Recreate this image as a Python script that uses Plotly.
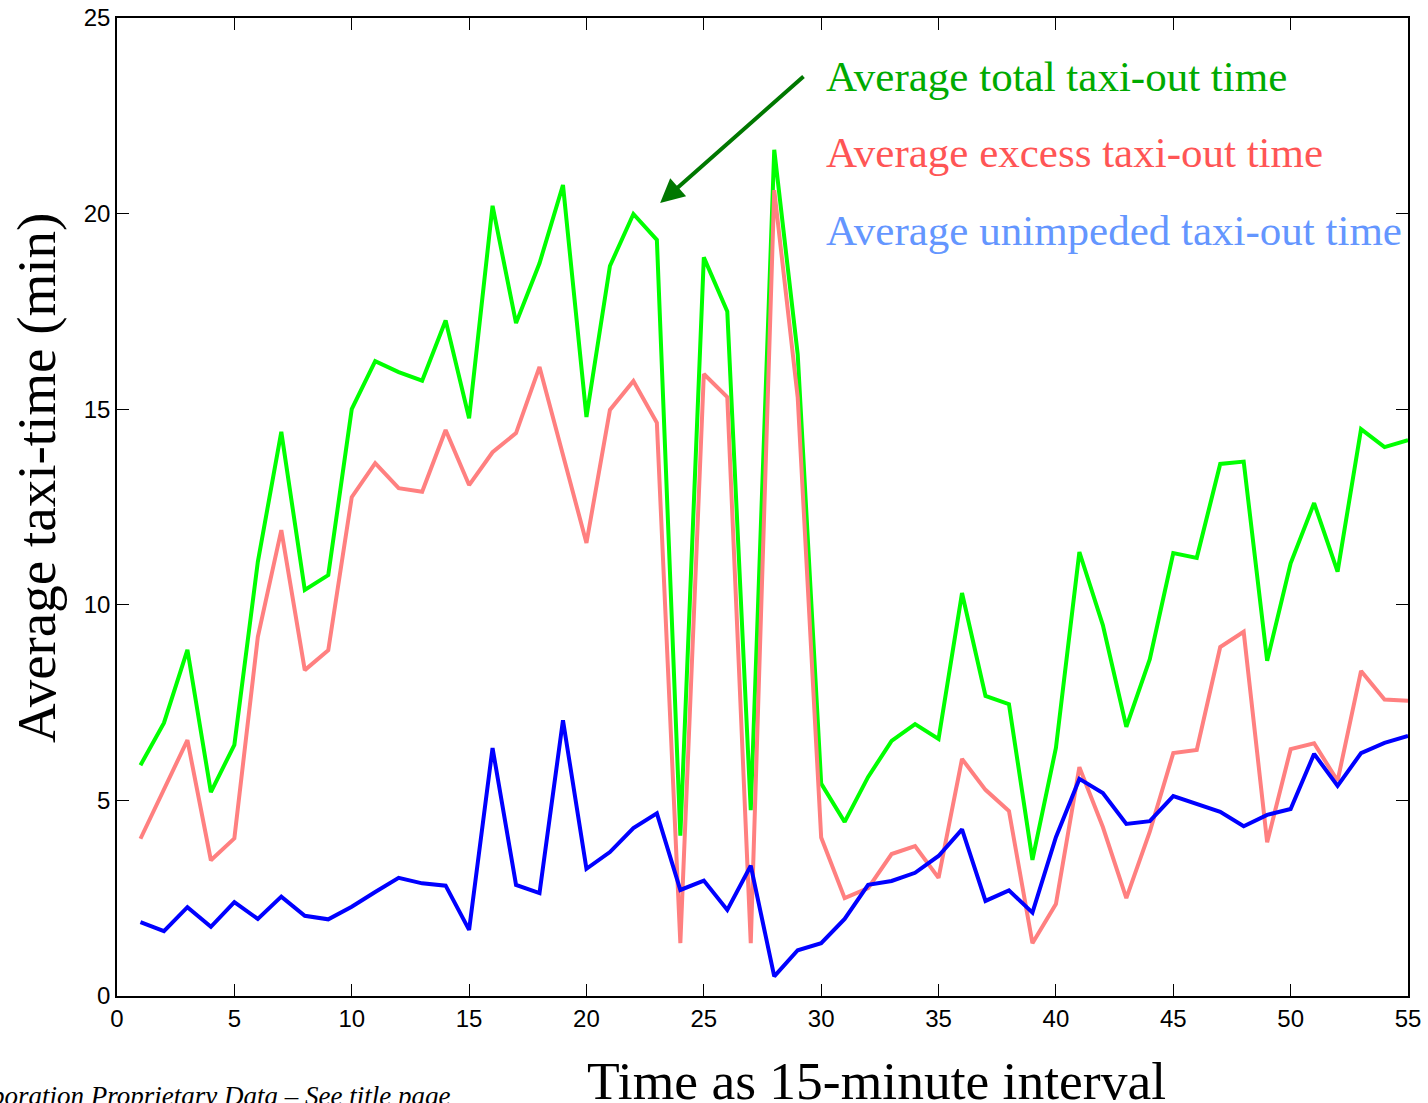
import plotly.graph_objects as go

intervals = list(range(1, 56))

total_taxi = [5.9, 6.98, 8.85, 5.21, 6.42, 11.1, 14.42, 10.38, 10.76, 15.0,
              16.23, 15.95, 15.73, 17.27, 14.77, 20.2, 17.2, 18.73, 20.73, 14.8,
              18.66, 19.99, 19.33, 4.1, 18.88, 17.5, 4.75, 21.63, 16.4, 5.43,
              4.45, 5.6, 6.52, 6.95, 6.57, 10.3, 7.67, 7.46, 3.48, 6.34,
              11.35, 9.48, 6.88, 8.61, 11.32, 11.2, 13.6, 13.66, 8.57, 11.06,
              12.6, 10.85, 14.49, 14.03, 14.21]

excess_taxi = [4.02, 5.3, 6.54, 3.47, 4.03, 9.18, 11.91, 8.33, 8.84, 12.75,
               13.62, 12.98, 12.89, 14.47, 13.06, 13.9, 14.39, 16.08, 13.8, 11.58,
               14.98, 15.72, 14.65, 1.35, 15.9, 15.31, 1.35, 20.6, 15.3, 4.05,
               2.5, 2.76, 3.63, 3.83, 3.02, 6.06, 5.27, 4.73, 1.35, 2.35,
               5.85, 4.32, 2.5, 4.2, 6.21, 6.29, 8.92, 9.31, 3.93, 6.31,
               6.46, 5.5, 8.31, 7.58, 7.55]

unimpeded_taxi = [1.89, 1.66, 2.27, 1.77, 2.4, 1.97, 2.54, 2.05, 1.96, 2.28,
                  2.66, 3.02, 2.88, 2.82, 1.69, 6.34, 2.84, 2.63, 7.05, 3.25,
                  3.68, 4.29, 4.67, 2.71, 2.95, 2.2, 3.33, 0.5, 1.17, 1.35,
                  1.97, 2.84, 2.94, 3.15, 3.58, 4.26, 2.43, 2.7, 2.13, 4.06,
                  5.55, 5.19, 4.4, 4.47, 5.11, 4.91, 4.71, 4.34, 4.63, 4.78,
                  6.19, 5.37, 6.21, 6.47, 6.65]

x_ticks = [0, 5, 10, 15, 20, 25, 30, 35, 40, 45, 50, 55]
y_ticks = [0, 5, 10, 15, 20, 25]

fig = go.Figure()
fig.add_trace(go.Scatter(x=intervals, y=total_taxi, mode="lines",
                         line=dict(color="rgb(0,255,0)", width=4),
                         name="Average total taxi-out time"))
fig.add_trace(go.Scatter(x=intervals, y=excess_taxi, mode="lines",
                         line=dict(color="rgb(255,128,128)", width=4),
                         name="Average excess taxi-out time"))
fig.add_trace(go.Scatter(x=intervals, y=unimpeded_taxi, mode="lines",
                         line=dict(color="rgb(0,0,255)", width=4),
                         name="Average unimpeded taxi-out time"))

axis_common = dict(showgrid=False, zeroline=False, showline=True,
                   linecolor="black", linewidth=1.5, mirror="ticks",
                   ticks="inside", ticklen=12, tickwidth=1, tickcolor="black",
                   automargin=False,
                   tickfont=dict(family="Liberation Sans, Arial", size=24, color="black"))

fig.update_xaxes(range=[0, 55], tickvals=x_ticks, ticktext=[str(v) for v in x_ticks],
                 **axis_common)
fig.update_yaxes(range=[0, 25], tickvals=y_ticks, ticktext=[str(v) for v in y_ticks],
                 **axis_common)

serif = "Liberation Serif, Times New Roman, serif"
annotations = [
    dict(text="Average taxi-time (min)", xref="paper", yref="paper",
         x=(36 - 117) / 1291, y=(996 - 478) / 978, textangle=-90, showarrow=False,
         xanchor="center", yanchor="middle",
         font=dict(family=serif, size=55, color="black")),
    dict(text="Time as 15-minute interval", xref="paper", yref="paper",
         x=(876 - 117) / 1291, y=(996 - 1081) / 978, showarrow=False,
         xanchor="center", yanchor="middle",
         font=dict(family=serif, size=53.5, color="black")),
    dict(text="Average total taxi-out time", xref="paper", yref="paper",
         x=(824 - 117) / 1291, y=(996 - 76) / 978, showarrow=False,
         xanchor="left", yanchor="middle",
         font=dict(family=serif, size=43, color="rgb(0,170,0)")),
    dict(text="Average excess taxi-out time", xref="paper", yref="paper",
         x=(824 - 117) / 1291, y=(996 - 153) / 978, showarrow=False,
         xanchor="left", yanchor="middle",
         font=dict(family=serif, size=43, color="rgb(255,85,85)")),
    dict(text="Average unimpeded taxi-out time", xref="paper", yref="paper",
         x=(824 - 117) / 1291, y=(996 - 230) / 978, showarrow=False,
         xanchor="left", yanchor="middle",
         font=dict(family=serif, size=43, color="rgb(100,150,255)")),
    dict(text="", x=23.14, y=20.27, xref="x", yref="y",
         ax=29.31, ay=23.54, axref="x", ayref="y",
         showarrow=True, arrowhead=2, arrowsize=1.2, arrowwidth=4,
         arrowcolor="rgb(0,120,0)"),
    dict(text="<i>Corporation Proprietary Data – See title page</i>",
         xref="paper", yref="paper", x=(452 - 117) / 1291, y=(996 - 1096) / 978,
         showarrow=False, xanchor="right", yanchor="middle",
         font=dict(family=serif, size=27, color="black")),
]

fig.update_layout(
    width=1428, height=1103,
    margin=dict(l=117, r=20, t=18, b=107),
    plot_bgcolor="white", paper_bgcolor="white",
    showlegend=False,
    annotations=annotations,
)

fig.write_html("out.html")
